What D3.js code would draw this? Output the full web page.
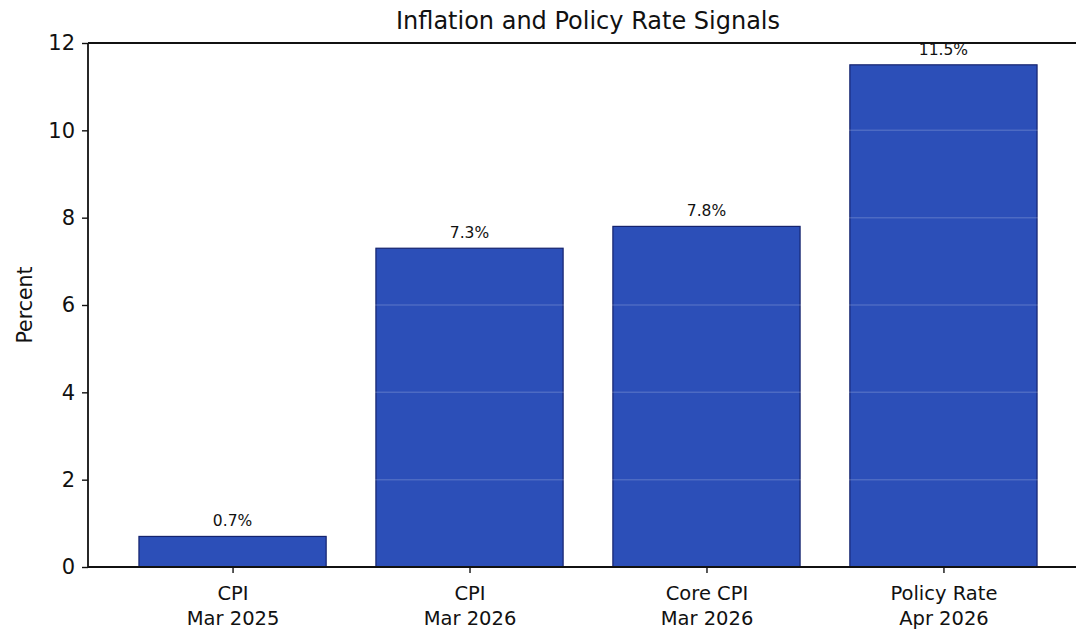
<!DOCTYPE html>
<html>
<head>
<meta charset="utf-8">
<script src="https://cdn.jsdelivr.net/npm/d3@7"></script>
<style>
  html, body { margin: 0; padding: 0; background: #ffffff; }
  svg { display: block; font-family: "DejaVu Sans", sans-serif; }
</style>
</head>
<body>
<svg id="chart" width="1076" height="632"></svg>
<script>
// Indicator categories (two-line labels) and their values in percent
const categories = ["CPI|Mar 2025", "CPI|Mar 2026", "Core CPI|Mar 2026", "Policy Rate|Apr 2026"];
const values = [0.7, 7.3, 7.8, 11.5];
const valueLabels = ["0.7%", "7.3%", "7.8%", "11.5%"];
const yTicks = [0, 2, 4, 6, 8, 10, 12];
const title = "Inflation and Policy Rate Signals";
const yTitle = "Percent";

const svg = d3.select("#chart");
const W = 1076, H = 632;
const margin = { left: 88, right: -12, top: 43, bottom: 65 };
const x0 = margin.left, x1 = W - margin.right;
const y0 = H - margin.bottom, y1 = margin.top;

// Continuous index scale, padded like a categorical bar plot
const x = d3.scaleLinear().domain([-0.61, categories.length - 1 + 0.61]).range([x0, x1]);
const barW = 0.79;
const y = d3.scaleLinear().domain([0, 12]).range([y0, y1]);

const barFill = "#2c4fb8";
const barEdge = "#15236e";

// bars
svg.append("g").selectAll("rect").data(values).join("rect")
  .attr("x", (d, i) => x(i - barW / 2))
  .attr("width", (d, i) => x(i + barW / 2) - x(i - barW / 2))
  .attr("y", d => y(d))
  .attr("height", d => y(0) - y(d))
  .attr("fill", barFill)
  .attr("stroke", barEdge)
  .attr("stroke-width", 1.2);

// faint grid lines, only visible over the bars
svg.append("g").selectAll("line").data(yTicks.filter(t => t > 0 && t < 12)).join("line")
  .attr("x1", x0).attr("x2", x1)
  .attr("y1", d => y(d)).attr("y2", d => y(d))
  .attr("stroke", "#ffffff").attr("stroke-opacity", 0.16).attr("stroke-width", 1.5);

// value labels
svg.append("g").selectAll("text").data(values).join("text")
  .attr("x", (d, i) => x(i))
  .attr("y", d => y(d) - 10)
  .attr("text-anchor", "middle")
  .attr("font-size", 15.5)
  .attr("fill", "#111")
  .text((d, i) => valueLabels[i]);

// y axis
const yAxis = svg.append("g").attr("transform", `translate(${x0},0)`)
  .call(d3.axisLeft(y).tickValues(yTicks).tickSize(6).tickPadding(7).tickFormat(d3.format("d")));
yAxis.select(".domain").remove();
yAxis.selectAll("line").attr("stroke", "#111").attr("stroke-width", 1.4);
yAxis.selectAll("text").attr("font-size", 21).attr("fill", "#111").attr("font-family", "DejaVu Sans, sans-serif");

// x axis
const xAxis = svg.append("g").attr("transform", `translate(0,${y0})`)
  .call(d3.axisBottom(x).tickValues(d3.range(categories.length)).tickSize(6).tickFormat(() => ""));
xAxis.select(".domain").remove();
xAxis.selectAll("line").attr("stroke", "#111").attr("stroke-width", 1.4);
xAxis.selectAll(".tick").each(function (d) {
  const parts = categories[d].split("|");
  const t = d3.select(this).append("text")
    .attr("text-anchor", "middle").attr("font-size", 19.5).attr("fill", "#111")
    .attr("font-family", "DejaVu Sans, sans-serif");
  parts.forEach((p, k) => t.append("tspan").attr("x", 0).attr("y", 33 + k * 25).text(p));
});

// spines
const sp = svg.append("g").attr("stroke", "#111").attr("stroke-width", 1.8).attr("fill", "none");
sp.append("line").attr("x1", x0).attr("x2", x0).attr("y1", y1).attr("y2", y0);
sp.append("line").attr("x1", x0).attr("x2", x1).attr("y1", y0).attr("y2", y0);
sp.append("line").attr("x1", x0).attr("x2", x1).attr("y1", y1).attr("y2", y1);
sp.append("line").attr("x1", x1).attr("x2", x1).attr("y1", y1).attr("y2", y0);

// title
svg.append("text").attr("x", (x0 + x1) / 2).attr("y", 29)
  .attr("text-anchor", "middle").attr("font-size", 24).attr("fill", "#111")
  .text(title);

// y axis title
svg.append("text").attr("transform", `translate(32,${(y0 + y1) / 2}) rotate(-90)`)
  .attr("text-anchor", "middle").attr("font-size", 20.5).attr("fill", "#111")
  .text(yTitle);
</script>
</body>
</html>
